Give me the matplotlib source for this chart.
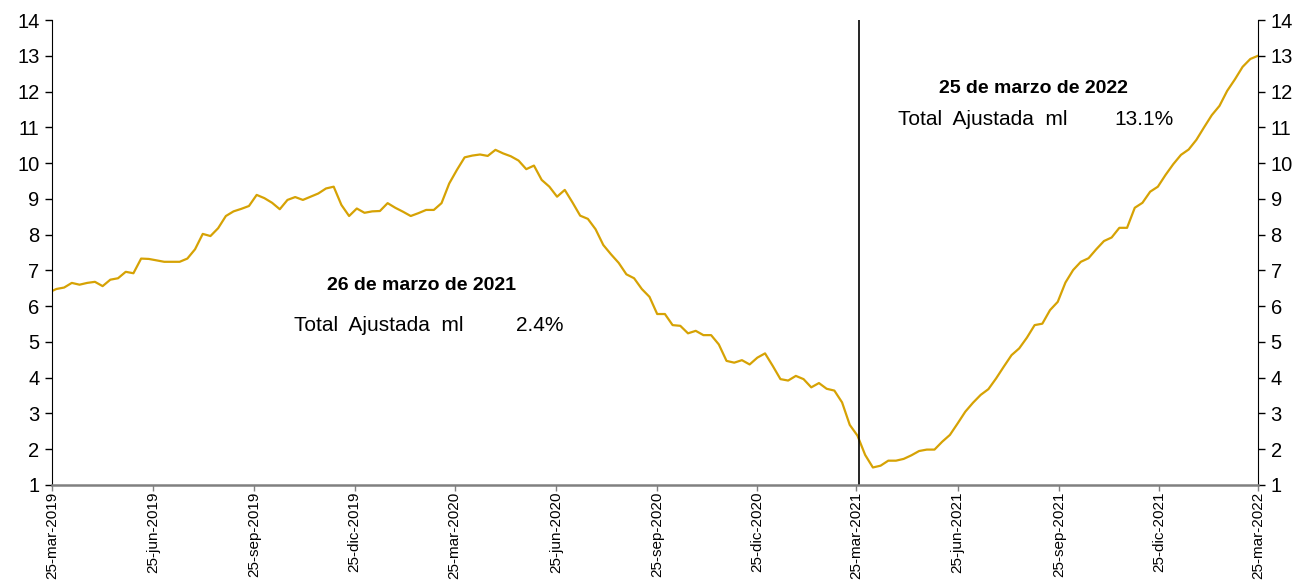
import numpy as np
import pandas as pd
import matplotlib
matplotlib.use('Agg')
import matplotlib.pyplot as plt

plt.rcParams['font.family'] = ['Liberation Sans', 'DejaVu Sans']

# === DATA (weekly) ===
valores = [
    6.38, 6.48, 6.52, 6.65, 6.60, 6.65, 6.68, 6.56, 6.74, 6.78, 6.96, 6.92, 7.33, 7.32,
    7.28, 7.24, 7.24, 7.24, 7.33, 7.59, 8.02, 7.96, 8.18, 8.52, 8.65, 8.72, 8.80,
    9.11, 9.02, 8.89, 8.71, 8.97, 9.05, 8.97, 9.06, 9.15, 9.29, 9.34, 8.83, 8.52, 8.73,
    8.61, 8.65, 8.66, 8.88, 8.75, 8.64, 8.52, 8.60, 8.69, 8.69, 8.88,
    9.43, 9.81, 10.16, 10.21, 10.24, 10.20, 10.37, 10.27, 10.19, 10.07, 9.83, 9.93, 9.53,
    9.34, 9.06, 9.25, 8.90, 8.53, 8.44, 8.15, 7.71, 7.45, 7.21, 6.89, 6.78, 6.48, 6.26,
    5.78, 5.78, 5.47, 5.45, 5.24, 5.31, 5.19, 5.19, 4.93, 4.47, 4.42, 4.49, 4.37, 4.56,
    4.68, 4.33, 3.96, 3.92, 4.05, 3.96, 3.73, 3.85, 3.69, 3.64, 3.31, 2.68, 2.38,
    1.84, 1.49, 1.54, 1.68, 1.68, 1.73, 1.83, 1.95, 1.99, 1.99, 2.21, 2.40, 2.72, 3.05,
    3.30, 3.52, 3.68, 3.98, 4.31, 4.63, 4.82, 5.12, 5.47, 5.51, 5.89, 6.12,
    6.66, 7.01, 7.24, 7.34, 7.59, 7.82, 7.92, 8.19, 8.19, 8.75, 8.89, 9.20, 9.34, 9.67,
    9.97, 10.23, 10.38, 10.65, 11.00, 11.34, 11.60, 12.02, 12.34, 12.69, 12.91, 13.00,
]
fechas = pd.date_range(end='2022-03-25', periods=len(valores), freq='7D')

tick_fechas = pd.to_datetime([
    '2019-03-25', '2019-06-25', '2019-09-25', '2019-12-25',
    '2020-03-25', '2020-06-25', '2020-09-25', '2020-12-25',
    '2021-03-25', '2021-06-25', '2021-09-25', '2021-12-25', '2022-03-25',
])
tick_labels = [
    '25-mar-2019', '25-jun-2019', '25-sep-2019', '25-dic-2019',
    '25-mar-2020', '25-jun-2020', '25-sep-2020', '25-dic-2020',
    '25-mar-2021', '25-jun-2021', '25-sep-2021', '25-dic-2021', '25-mar-2022',
]
fecha_corte = pd.Timestamp('2021-03-27')

c_linea = '#D6A204'

# === PLOT ===
fig = plt.figure(figsize=(13.06, 5.8), dpi=100)
ax = fig.add_axes([52/1306, 95/580, 1206/1306, 465/580])

ax.plot(fechas, valores, color=c_linea, lw=1.6)
ax.axvline(fecha_corte, color='black', lw=1.2)

ax.set_xlim(pd.Timestamp('2019-03-25'), pd.Timestamp('2022-03-25'))
ax.set_ylim(1, 14)
ax.set_yticks(range(1, 15))
ax.tick_params(axis='y', direction='out', length=5, width=1, pad=4,
               labelsize=14.5, left=True, right=True, labelleft=True, labelright=True,
               colors='black')
ax.set_xticks(tick_fechas)
ax.set_xticklabels(tick_labels, rotation=90, fontsize=11)
ax.tick_params(axis='x', direction='out', length=4, width=1, color='#808080', pad=1)

ax.spines['top'].set_visible(False)
ax.spines['left'].set_color('black')
ax.spines['right'].set_color('black')
ax.spines['bottom'].set_color('#808080')
ax.spines['bottom'].set_linewidth(1.8)

# annotations
ax.text(0.306, 0.428, '26 de marzo de 2021', transform=ax.transAxes, ha='center',
        va='center', fontsize=14, fontweight='bold')
ax.text(0.2007, 0.342, 'Total  Ajustada  ml', transform=ax.transAxes, ha='left',
        va='center', fontsize=15)
ax.text(0.385, 0.342, '2.4%', transform=ax.transAxes, ha='left', va='center', fontsize=15)

ax.text(0.814, 0.852, '25 de marzo de 2022', transform=ax.transAxes, ha='center',
        va='center', fontsize=14, fontweight='bold')
ax.text(0.7015, 0.785, 'Total  Ajustada  ml', transform=ax.transAxes, ha='left',
        va='center', fontsize=15)
ax.text(0.881, 0.785, '13.1%', transform=ax.transAxes, ha='left', va='center', fontsize=15)

fig.savefig('out.png', dpi=100)
